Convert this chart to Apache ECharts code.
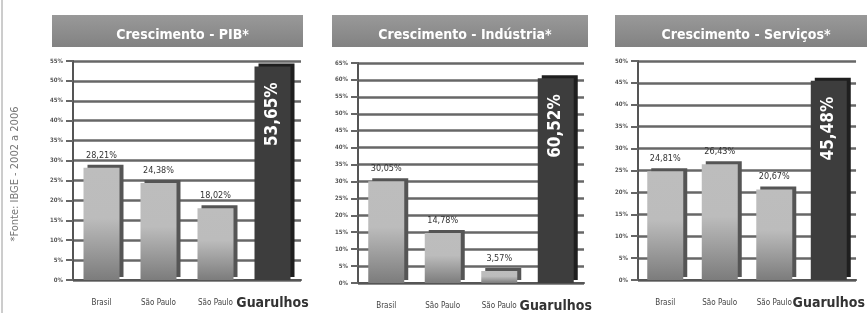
<!DOCTYPE html>
<html>
<head>
<meta charset="utf-8">
<script src="https://cdn.jsdelivr.net/npm/echarts@6/dist/echarts.min.js"></script>
<style>
  html, body { margin: 0; padding: 0; background: #ffffff; }
  #chart { width: 867px; height: 313px; }
</style>
</head>
<body>
<div id="chart"></div>
<script>
// ---- data ----
var categories = ['Brasil', 'São Paulo', 'São Paulo', 'Guarulhos'];
var pibValues = [28.21, 24.38, 18.02, 53.65];
var industriaValues = [30.05, 14.78, 3.57, 60.52];
var servicosValues = [24.81, 26.43, 20.67, 45.48];
var panelTitles = ['Crescimento - PIB*', 'Crescimento - Indústria*', 'Crescimento - Serviços*'];
var axisMax = [55, 65, 50];
var sourceNote = '*Fonte: IBGE - 2002 a 2006';

// ---- layout/style ----
var FONT = '"DejaVu Sans Condensed", "Liberation Sans Narrow", "Roboto", sans-serif';
var grids = [
  { left: 73, top: 61, width: 228, height: 219 },
  { left: 358, top: 63, width: 226, height: 220 },
  { left: 638, top: 61, width: 226, height: 219 }
];
var banners = [
  { x: 52, w: 251 },
  { x: 332, w: 256 },
  { x: 615, w: 252 }
];

function fmt(v) { return v.toFixed(2).replace('.', ',') + '%'; }

var lightFill = {
  type: 'linear', x: 0, y: 0, x2: 0, y2: 1,
  colorStops: [
    { offset: 0, color: '#bdbdbd' },
    { offset: 0.45, color: '#bcbcbc' },
    { offset: 1, color: '#7c7c7c' }
  ]
};

function buildData(vals) {
  return vals.map(function (v, i) {
    if (i === 3) {
      return {
        value: v,
        itemStyle: { color: '#3d3d3d', shadowColor: '#1f1f1f', shadowOffsetX: 4, shadowOffsetY: -3, shadowBlur: 0 },
        label: {
          show: true, position: 'insideTop', rotate: 90, align: 'right', verticalAlign: 'middle',
          distance: 16, color: '#ffffff', fontSize: 17, fontWeight: 'bold', fontFamily: FONT,
          formatter: function (p) { return fmt(p.value); }
        }
      };
    }
    return {
      value: v,
      itemStyle: { color: lightFill, shadowColor: '#555555', shadowOffsetX: 4, shadowOffsetY: -3, shadowBlur: 0 },
      label: {
        show: true, position: 'top', distance: 8, color: '#333333', fontSize: 9, fontFamily: FONT,
        formatter: function (p) { return fmt(p.value); }
      }
    };
  });
}

var allValues = [pibValues, industriaValues, servicosValues];

var option = {
  backgroundColor: '#ffffff',
  animation: false,
  title: panelTitles.map(function (t, i) {
    return {
      text: t, left: banners[i].x + banners[i].w / 2, top: 23, textAlign: 'center',
      textStyle: { color: '#ffffff', fontSize: 14, fontWeight: 'bold', fontFamily: FONT }
    };
  }),
  graphic: [
    { type: 'line', shape: { x1: 2, y1: 0, x2: 2, y2: 313 }, style: { stroke: '#9a9a9a', lineWidth: 1 } },
    {
      type: 'text', x: 15, y: 174, rotation: Math.PI / 2,
      style: { text: sourceNote, fill: '#777777', fontSize: 11, fontFamily: FONT, align: 'center', verticalAlign: 'middle' }
    }
  ].concat(banners.map(function (b) {
    return {
      type: 'rect', z: -1, shape: { x: b.x, y: 15, width: b.w, height: 32 },
      style: {
        fill: { type: 'linear', x: 0, y: 0, x2: 0, y2: 1, colorStops: [{ offset: 0, color: '#999999' }, { offset: 1, color: '#828282' }] }
      }
    };
  })),
  grid: grids.map(function (g) { return { left: g.left, top: g.top, width: g.width, height: g.height, containLabel: false }; }),
  xAxis: grids.map(function (g, i) {
    return {
      type: 'category', gridIndex: i, data: categories,
      axisLine: { show: true, lineStyle: { color: '#555555', width: 2 } },
      axisTick: { show: false },
      axisLabel: {
        interval: 0, hideOverlap: false, margin: 13,
        formatter: function (v, idx) { return idx === 3 ? '{g|' + v + '}' : '{s|' + v + '}'; },
        rich: {
          s: { fontSize: 8, color: '#444444', fontFamily: FONT, lineHeight: 20, verticalAlign: 'middle' },
          g: { fontSize: 14, fontWeight: 'bold', color: '#333333', fontFamily: FONT, lineHeight: 20, verticalAlign: 'middle' }
        }
      }
    };
  }),
  yAxis: grids.map(function (g, i) {
    return {
      type: 'value', gridIndex: i, min: 0, max: axisMax[i], interval: 5,
      axisLine: { show: true, lineStyle: { color: '#555555', width: 2 } },
      axisTick: { show: true, length: 7, lineStyle: { color: '#666666', width: 2 } },
      axisLabel: { fontSize: 6, fontWeight: 'bold', color: '#555555', margin: 10, fontFamily: FONT, formatter: '{value}%' },
      splitLine: { show: true, lineStyle: { color: '#676767', width: 2.5 } }
    };
  }),
  series: allValues.map(function (vals, i) {
    return {
      type: 'bar', xAxisIndex: i, yAxisIndex: i, barWidth: 36,
      data: buildData(vals)
    };
  })
};

var chart = echarts.init(document.getElementById('chart'), null, { renderer: 'canvas' });
chart.setOption(option);
</script>
</body>
</html>
